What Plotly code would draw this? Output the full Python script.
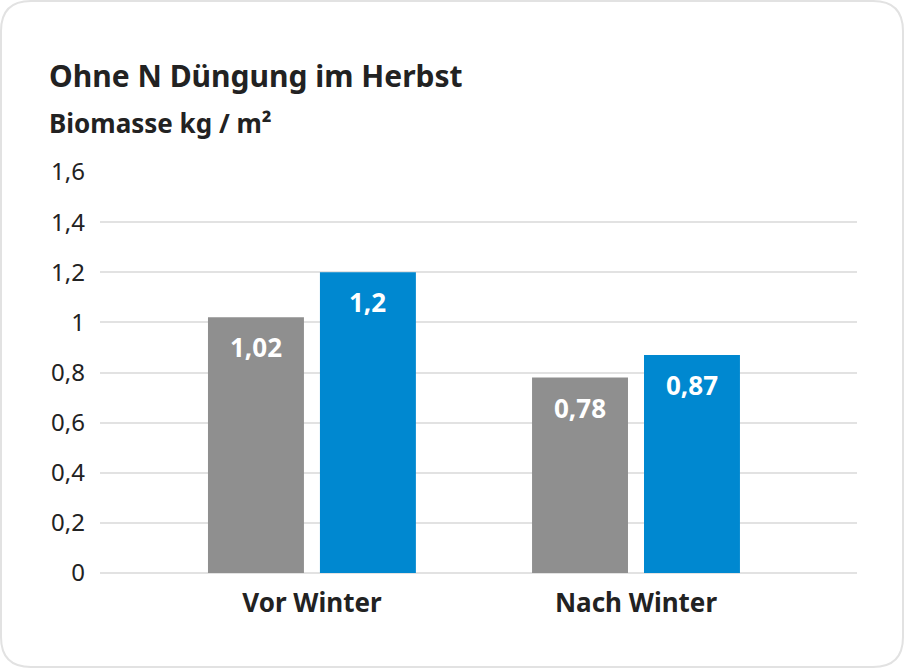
import plotly.graph_objects as go

categories = ["Vor Winter", "Nach Winter"]
series_grey = [1.02, 0.78]
series_blue = [1.2, 0.87]
series_names = ["grau", "blau"]
title = "Ohne N Düngung im Herbst"
subtitle = "Biomasse kg / m²"

W, H = 904, 668
L, R, T, B = 100, 47, 172, 95
PW, PH = W - L - R, H - T - B

def px(x):
    return (x - L) / PW

def py(y):
    return (H - B - y) / PH

GREY = "#8f8f8f"
BLUE = "#0088d0"
FONT = "Noto Sans"

fig = go.Figure()
fig.add_bar(x=categories, y=series_grey, name=series_names[0], marker_color=GREY, marker_line_width=0)
fig.add_bar(x=categories, y=series_blue, name=series_names[1], marker_color=BLUE, marker_line_width=0)

anns = []
for vals, shift in ((series_grey, -56), (series_blue, 56)):
    for c, v in zip(categories, vals):
        anns.append(dict(x=c, y=v, xref="x", yref="y", text=f"<b>{str(v).replace('.', ',')}</b>",
                         showarrow=False, xshift=shift, yanchor="middle", yshift=-30,
                         font=dict(family=FONT, size=26, color="white")))

anns.append(dict(x=px(47), y=py(75), xref="paper", yref="paper", xanchor="left", yanchor="middle",
                 text=f"<b>{title}</b>", showarrow=False,
                 font=dict(family=FONT, size=30, color="#222222")))
anns.append(dict(x=px(47), y=py(123), xref="paper", yref="paper", xanchor="left", yanchor="middle",
                 text=f"<b>{subtitle}</b>", showarrow=False,
                 font=dict(family=FONT, size=26, color="#222222")))

# rounded card border
x0, y0, x1, y1, r = 1, 1, 903, 667, 30
def P(x, y):
    return f"{px(x)},{py(y)}"
path = (f"M {P(x0 + r, y0)} L {P(x1 - r, y0)} Q {P(x1, y0)} {P(x1, y0 + r)} "
        f"L {P(x1, y1 - r)} Q {P(x1, y1)} {P(x1 - r, y1)} "
        f"L {P(x0 + r, y1)} Q {P(x0, y1)} {P(x0, y1 - r)} "
        f"L {P(x0, y0 + r)} Q {P(x0, y0)} {P(x0 + r, y0)} Z")

fig.update_layout(
    width=W, height=H,
    margin=dict(l=L, r=R, t=T, b=B, pad=0),
    paper_bgcolor="white", plot_bgcolor="white",
    showlegend=False,
    separators=",.",
    barmode="group", bargap=0.309, bargroupgap=0.143,
    font=dict(family=FONT, color="#222222"),
    annotations=anns,
    shapes=[dict(type="path", path=path, xref="paper", yref="paper",
                 line=dict(color="#e2e2e2", width=2), layer="below")],
    xaxis=dict(range=[-0.654, 1.682], showgrid=False, zeroline=False, showline=False,
               ticks="", tickfont=dict(family=FONT, size=26, color="#222222", weight="bold"),
               ticklabelstandoff=12),
    yaxis=dict(range=[0, 1.6], dtick=0.2, tick0=0, showgrid=True, gridcolor="#e2e2e2", gridwidth=2,
               zeroline=True, zerolinecolor="#e2e2e2", zerolinewidth=2, showline=False, ticks="",
               tickfont=dict(family=FONT, size=24, color="#222222"), ticklabelstandoff=14),
)

fig.write_html("out.html")
